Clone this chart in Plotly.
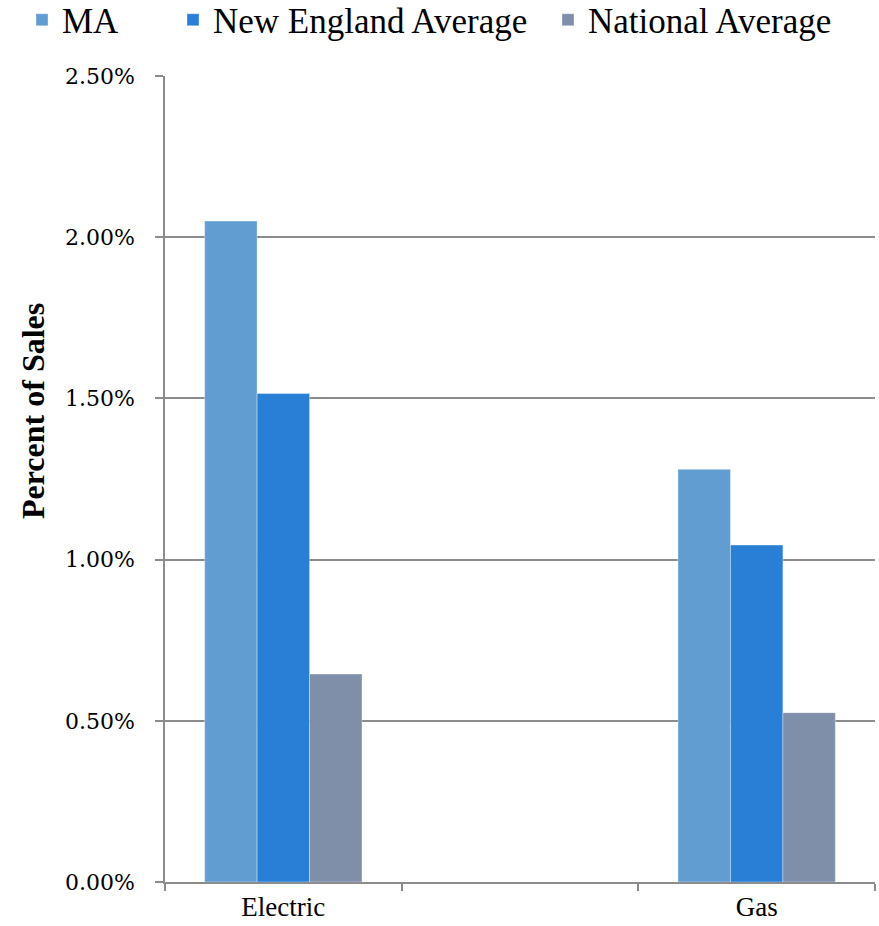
import plotly.graph_objects as go

# Categories on the x axis (one blank slot separates Electric and Gas)
categories = ["Electric", " ", "Gas"]

# Percent of sales (in %)
ma_values = [2.05, None, 1.28]
new_england_values = [1.515, None, 1.045]
national_values = [0.645, None, 0.525]

y_tick_values = [0, 0.5, 1.0, 1.5, 2.0, 2.5]
y_tick_labels = ["0.00%", "0.50%", "1.00%", "1.50%", "2.00%", "2.50%"]

series = [
    ("MA", ma_values, "#629dd1"),
    ("New England Average", new_england_values, "#297fd5"),
    ("National Average", national_values, "#7f8fa9"),
]

SERIF = "Liberation Serif"
TICK_FONT = "DejaVu Serif"
AXIS_GRAY = "#8c8c8c"

# plot area in pixels
L, R, T, B = 165, 4, 76, 44
PW = 879 - L - R
PH = 926 - T - B

# each series gets its own legend box, placed along the top
legend_ids = ["legend", "legend2", "legend3"]
legend_left_px = [22, 173, 548]

fig = go.Figure()
for (name, vals, color), lid in zip(series, legend_ids):
    fig.add_trace(go.Bar(
        x=categories,
        y=vals,
        name=name,
        legend=lid,
        marker=dict(color=color, line=dict(color="rgba(255,255,255,0.35)", width=1)),
    ))

layout_legends = {}
for lid, px in zip(legend_ids, legend_left_px):
    layout_legends[lid] = dict(
        orientation="h",
        x=(px - L) / PW,
        xanchor="left",
        y=(926 - B - 20) / PH,
        yanchor="middle",
        font=dict(family=SERIF, size=35, color="#000000"),
        bgcolor="rgba(0,0,0,0)",
        borderwidth=0,
    )

fig.update_layout(
    width=879,
    height=926,
    margin=dict(l=L, r=R, t=T, b=B, autoexpand=False),
    paper_bgcolor="white",
    plot_bgcolor="white",
    barmode="group",
    bargap=0.335,
    bargroupgap=0,
    font=dict(family=SERIF, color="#000000"),
    showlegend=True,
    **layout_legends,
)

fig.update_xaxes(
    type="category",
    categoryorder="array",
    categoryarray=categories,
    range=[-0.5, 2.5],
    tickson="boundaries",
    ticks="outside",
    ticklen=7,
    tickwidth=1.5,
    tickcolor=AXIS_GRAY,
    ticklabelstandoff=0,
    showline=True,
    linecolor=AXIS_GRAY,
    linewidth=1.5,
    showgrid=False,
    tickfont=dict(family=SERIF, size=27, color="#000000"),
    fixedrange=True,
)

fig.update_yaxes(
    range=[0, 2.5],
    tickvals=y_tick_values,
    ticktext=y_tick_labels,
    ticks="outside",
    ticklen=8,
    tickwidth=1.5,
    tickcolor=AXIS_GRAY,
    ticklabelstandoff=16,
    showline=True,
    linecolor=AXIS_GRAY,
    linewidth=1.5,
    showgrid=True,
    gridcolor=AXIS_GRAY,
    gridwidth=1.5,
    zeroline=False,
    tickfont=dict(family=TICK_FONT, size=22, color="#000000"),
    fixedrange=True,
)

fig.add_annotation(
    text="<b>Percent of Sales</b>",
    xref="paper",
    yref="paper",
    x=(33 - L) / PW,
    y=(926 - B - 411) / PH,
    xanchor="center",
    yanchor="middle",
    textangle=-90,
    showarrow=False,
    font=dict(family=SERIF, size=32, color="#000000"),
)

fig.write_html("out.html")
